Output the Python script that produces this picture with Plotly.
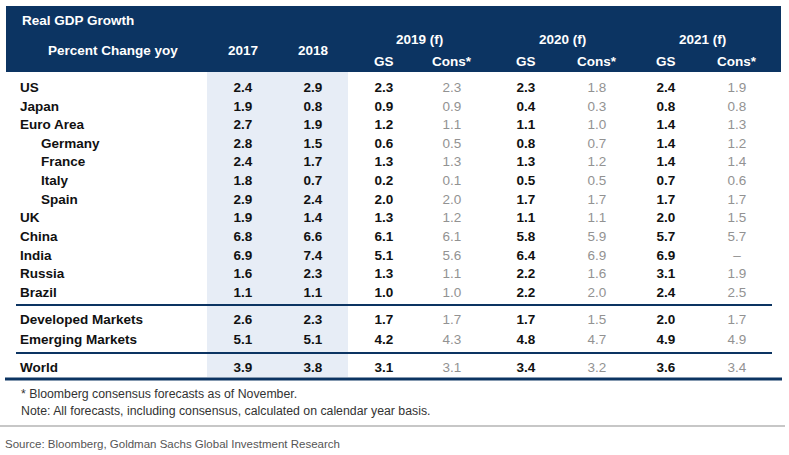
import plotly.graph_objects as go

# ---------------- data ----------------
countries = ["US", "Japan", "Euro Area", "Germany", "France", "Italy", "Spain", "UK",
             "China", "India", "Russia", "Brazil",
             "Developed Markets", "Emerging Markets", "World"]
indented = [False, False, False, True, True, True, True, False,
            False, False, False, False, False, False, False]
y2017 = ["2.4", "1.9", "2.7", "2.8", "2.4", "1.8", "2.9", "1.9", "6.8", "6.9", "1.6", "1.1", "2.6", "5.1", "3.9"]
y2018 = ["2.9", "0.8", "1.9", "1.5", "1.7", "0.7", "2.4", "1.4", "6.6", "7.4", "2.3", "1.1", "2.3", "5.1", "3.8"]
gs2019 = ["2.3", "0.9", "1.2", "0.6", "1.3", "0.2", "2.0", "1.3", "6.1", "5.1", "1.3", "1.0", "1.7", "4.2", "3.1"]
cons2019 = ["2.3", "0.9", "1.1", "0.5", "1.3", "0.1", "2.0", "1.2", "6.1", "5.6", "1.1", "1.0", "1.7", "4.3", "3.1"]
gs2020 = ["2.3", "0.4", "1.1", "0.8", "1.3", "0.5", "1.7", "1.1", "5.8", "6.4", "2.2", "2.2", "1.7", "4.8", "3.4"]
cons2020 = ["1.8", "0.3", "1.0", "0.7", "1.2", "0.5", "1.7", "1.1", "5.9", "6.9", "1.6", "2.0", "1.5", "4.7", "3.2"]
gs2021 = ["2.4", "0.8", "1.4", "1.4", "1.4", "0.7", "1.7", "2.0", "5.7", "6.9", "3.1", "2.4", "2.0", "4.9", "3.6"]
cons2021 = ["1.9", "0.8", "1.3", "1.2", "1.4", "0.6", "1.7", "1.5", "5.7", "–", "1.9", "2.5", "1.7", "4.9", "3.4"]

title = "Real GDP Growth"
subtitle = "Percent Change yoy"
year_headers = ["2017", "2018"]
forecast_headers = ["2019 (f)", "2020 (f)", "2021 (f)"]
sub_headers = ["GS", "Cons*"]
footnotes = ["* Bloomberg consensus forecasts as of November.",
             "Note: All forecasts, including consensus, calculated on calendar year basis."]
source = "Source: Bloomberg, Goldman Sachs Global Investment Research"

# ---------------- layout constants ----------------
W, H = 789, 455
NAVY = "#0c3462"
BAND = "#e7edf6"
GREY = "#929292"
FONT = "Liberation Sans, Arial, sans-serif"
FS = 13.5

row_y = [88.5 + 18.64 * i for i in range(12)] + [320.5, 340.5, 368.5]
col_x = [243, 313, 384, 452, 526, 597, 666, 737]

fig = go.Figure()

# row labels
label_x = [41 if ind else 20 for ind in indented]
fig.add_trace(go.Scatter(
    x=label_x, y=row_y, mode="text", text=[f"<b>{c}</b>" for c in countries],
    textposition="middle right", textfont=dict(family=FONT, size=FS, color="#111111"),
    hoverinfo="skip", showlegend=False))

columns = [y2017, y2018, gs2019, cons2019, gs2020, cons2020, gs2021, cons2021]
is_cons = [False, False, False, True, False, True, False, True]
for cx, vals, cons in zip(col_x, columns, is_cons):
    txt = vals if cons else [f"<b>{v}</b>" for v in vals]
    fig.add_trace(go.Scatter(
        x=[cx] * len(vals), y=row_y, mode="text", text=txt,
        textposition="middle center",
        textfont=dict(family=FONT, size=FS, color=GREY if cons else "#111111"),
        hoverinfo="skip", showlegend=False))

shapes = [
    # header block
    dict(type="rect", x0=6, x1=781, y0=6, y1=72, fillcolor=NAVY, line=dict(width=0), layer="below"),
    # highlighted actual-years band
    dict(type="rect", x0=207, x1=348, y0=72, y1=377, fillcolor=BAND, line=dict(width=0), layer="below"),
    # separators
    dict(type="line", x0=16, x1=772, y0=305, y1=305, line=dict(color=NAVY, width=2)),
    dict(type="line", x0=16, x1=772, y0=353, y1=353, line=dict(color=NAVY, width=2)),
    dict(type="line", x0=5, x1=782, y0=379, y1=379, line=dict(color=NAVY, width=3)),
    dict(type="line", x0=0, x1=785, y0=426, y1=426, line=dict(color="#b5b5b5", width=1.5)),
]

ann = []
def A(x, y, t, size=FS, color="white", xanchor="center", family=FONT):
    ann.append(dict(x=x, y=y, text=t, showarrow=False, xanchor=xanchor, yanchor="middle",
                    font=dict(family=family, size=size, color=color)))

A(20, 20, f"<b>{title}</b>", xanchor="left")
A(46, 50, f"<b>{subtitle}</b>", xanchor="left")
A(col_x[0], 50, f"<b>{year_headers[0]}</b>")
A(col_x[1], 50, f"<b>{year_headers[1]}</b>")
for i, fh in enumerate(forecast_headers):
    gx, cx = col_x[2 + 2 * i], col_x[3 + 2 * i]
    A((gx + cx) / 2 + 1, 39, f"<b>{fh}</b>")
    A(gx, 61, f"<b>{sub_headers[0]}</b>")
    A(cx, 61, f"<b>{sub_headers[1]}</b>")

A(19, 394, footnotes[0], size=12.3, color="#333333", xanchor="left")
A(19, 411, footnotes[1], size=12.3, color="#333333", xanchor="left")
A(3, 444, source, size=11.5, color="#555555", xanchor="left",
  family="Liberation Sans Narrow, Arial Narrow, Liberation Sans, sans-serif")

fig.update_layout(
    width=W, height=H, margin=dict(l=0, r=0, t=0, b=0),
    paper_bgcolor="white", plot_bgcolor="white",
    xaxis=dict(range=[0, W], visible=False, fixedrange=True),
    yaxis=dict(range=[H, 0], visible=False, fixedrange=True),
    shapes=shapes, annotations=ann,
)

fig.write_html("out.html", config={"displayModeBar": False},
               post_script="document.body.style.margin='0';document.body.style.overflow='hidden';")
